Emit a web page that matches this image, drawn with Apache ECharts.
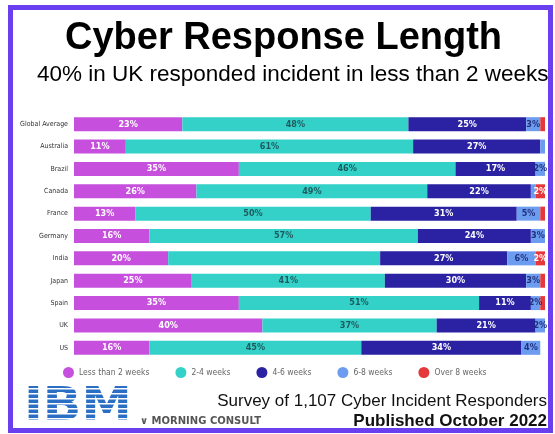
<!DOCTYPE html>
<html>
<head>
<meta charset="utf-8">
<script src="https://cdn.jsdelivr.net/npm/echarts@6/dist/echarts.min.js"></script>
<style>
  html, body { margin: 0; padding: 0; background: #fff; }
  #chart { width: 555px; height: 434px; }
</style>
</head>
<body>
<div id="chart"></div>
<script>
// countries, top to bottom
let countries = ['Global Average', 'Australia', 'Brazil', 'Canada', 'France', 'Germany',
  'India', 'Japan', 'Spain', 'UK', 'US'];
let lessThan2 = [23, 11, 35, 26, 13, 16, 20, 25, 35, 40, 16];
let weeks2to4 = [48, 61, 46, 49, 50, 57, 45, 41, 51, 37, 45];
let weeks4to6 = [25, 27, 17, 22, 31, 24, 27, 30, 11, 21, 34];
let weeks6to8 = [3, 1, 2, 1, 5, 3, 6, 3, 2, 2, 4];
let over8 = [1, 0, 0, 2, 1, 0, 2, 1, 1, 0, 0];
let seriesNames = ['Less than 2 weeks', '2-4 weeks', '4-6 weeks', '6-8 weeks', 'Over 8 weeks'];

let colors = ['#c650dd', '#33d1c8', '#2a22a3', '#6c9cef', '#e5383b'];
let labelColors = ['#fff', '#1f5b5e', '#fff', '#22307e', '#fff'];
let narrow = '"Liberation Sans Narrow", "DejaVu Sans Condensed", Arial, sans-serif';
let sans = '"Liberation Sans", Arial, sans-serif';

let chart = echarts.init(document.getElementById('chart'));

function makeSeries(name, values, i) {
  return {
    name: name,
    type: 'bar',
    stack: 'total',
    barWidth: 14,
    itemStyle: { color: colors[i] },
    data: values.map(function (v, k) {
      // India's 2-4 weeks value has no label in the original
      let hide = v < 2 || (i === 1 && countries[k] === 'India');
      return { value: v, label: { show: !hide } };
    }),
    label: {
      show: true,
      position: 'inside',
      formatter: '{c}%',
      color: labelColors[i],
      fontFamily: narrow,
      fontSize: 9,
      fontWeight: 'bold'
    }
  };
}

let series = [
  makeSeries(seriesNames[0], lessThan2, 0),
  makeSeries(seriesNames[1], weeks2to4, 1),
  makeSeries(seriesNames[2], weeks4to6, 2),
  makeSeries(seriesNames[3], weeks6to8, 3),
  makeSeries(seriesNames[4], over8, 4)
];

chart.setOption({
  animation: false,
  title: [
    {
      text: 'Cyber Response Length',
      left: 60,
      top: 15,
      textStyle: { fontFamily: sans, fontSize: 38, fontWeight: 'bold', color: '#000' }
    },
    {
      text: '40% in UK responded incident in less than 2 weeks',
      left: 32,
      top: 58,
      textStyle: { fontFamily: sans, fontSize: 22.5, fontWeight: 'normal', color: '#000' }
    }
  ],
  legend: {
    data: seriesNames,
    top: 362,
    left: 58,
    itemGap: 26,
    icon: 'circle',
    itemWidth: 11,
    itemHeight: 11,
    textStyle: { fontFamily: narrow, fontSize: 8.5, color: '#666' }
  },
  grid: { left: 74, right: 10, top: 113, height: 246 },
  xAxis: {
    type: 'value',
    min: 0,
    max: 100,
    show: false
  },
  yAxis: {
    type: 'category',
    data: countries,
    inverse: true,
    axisLine: { show: false },
    axisTick: { show: false },
    axisLabel: { fontFamily: narrow, fontSize: 7, color: '#333', margin: 6 }
  },
  series: series,
  graphic: [
    // purple frame
    { type: 'rect', shape: { x: 10.5, y: 7.5, width: 540, height: 423 }, style: { fill: 'none', stroke: '#6a3ff0', lineWidth: 5 } },
    // IBM wordmark
    { type: 'text', left: 24, top: 385, scaleX: 1.1, style: { text: 'IBM', fontFamily: 'DejaVu Sans, sans-serif', fontWeight: 'bold', fontSize: 46, fill: '#2a6fc4' } },
    { type: 'group', left: 22, top: 388, children: [0, 1, 2, 3, 4, 5, 6].map(function (k) {
        return { type: 'rect', shape: { x: 0, y: 3.5 + k * 5, width: 110, height: 1.4 }, style: { fill: '#fff' } };
      }) },
    { type: 'text', left: 140, top: 416, style: { text: '\u2228 MORNING CONSULT', fontFamily: 'DejaVu Sans, sans-serif', fontWeight: 'bold', fontSize: 10, fill: '#555' } },
    { type: 'text', right: 8, top: 393, style: { text: 'Survey of 1,107 Cyber Incident Responders', fontFamily: sans, fontSize: 17, fill: '#111', textAlign: 'right' } },
    { type: 'text', right: 8, top: 413, style: { text: 'Published October 2022', fontFamily: sans, fontWeight: 'bold', fontSize: 17, fill: '#111', textAlign: 'right' } }
  ]
});
</script>
</body>
</html>
